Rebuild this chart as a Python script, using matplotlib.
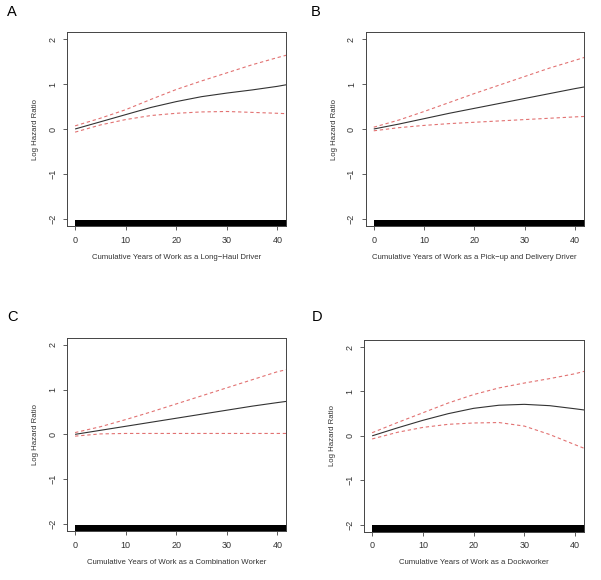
import matplotlib
matplotlib.use("Agg")
import matplotlib.pyplot as plt
import matplotlib.transforms as mtransforms

plt.rcParams['font.family'] = ['Liberation Sans', 'DejaVu Sans']

years = [0, 5, 10, 15, 20, 25, 30, 35, 40, 42]

panel_letters = ["A", "B", "C", "D"]
xlabels = [
    "Cumulative Years of Work as a Long\u2212Haul Driver",
    "Cumulative Years of Work as a Pick\u2212up and Delivery Driver",
    "Cumulative Years of Work as a Combination Worker",
    "Cumulative Years of Work as a Dockworker",
]

fit_A   = [0.00, 0.16, 0.32, 0.48, 0.61, 0.72, 0.80, 0.87, 0.95, 0.99]
upper_A = [0.07, 0.24, 0.43, 0.66, 0.88, 1.07, 1.25, 1.43, 1.59, 1.65]
lower_A = [-0.07, 0.09, 0.21, 0.30, 0.35, 0.38, 0.39, 0.37, 0.35, 0.34]

fit_B   = [0.00, 0.11, 0.23, 0.35, 0.46, 0.57, 0.68, 0.79, 0.90, 0.94]
upper_B = [0.04, 0.20, 0.39, 0.59, 0.79, 0.98, 1.17, 1.36, 1.53, 1.60]
lower_B = [-0.04, 0.03, 0.08, 0.12, 0.15, 0.18, 0.21, 0.24, 0.27, 0.28]

fit_C   = [0.00, 0.09, 0.18, 0.27, 0.36, 0.45, 0.54, 0.63, 0.71, 0.74]
upper_C = [0.04, 0.17, 0.33, 0.50, 0.68, 0.86, 1.04, 1.22, 1.40, 1.45]
lower_C = [-0.04, 0.01, 0.02, 0.02, 0.02, 0.02, 0.02, 0.02, 0.02, 0.02]

fit_D   = [0.00, 0.18, 0.35, 0.50, 0.62, 0.69, 0.71, 0.68, 0.61, 0.58]
upper_D = [0.07, 0.30, 0.52, 0.74, 0.93, 1.08, 1.19, 1.29, 1.40, 1.46]
lower_D = [-0.07, 0.08, 0.19, 0.26, 0.29, 0.30, 0.22, 0.03, -0.20, -0.29]

fits = [fit_A, fit_B, fit_C, fit_D]
uppers = [upper_A, upper_B, upper_C, upper_D]
lowers = [lower_A, lower_B, lower_C, lower_D]

rug_min = [0, 0, 0, 0]
rug_max = [42, 42, 42, 42]

xticks = [0, 10, 20, 30, 40]
yticks = [-2, -1, 0, 1, 2]

W, H = 601, 580
fig = plt.figure(figsize=(W / 100, H / 100), dpi=100)

# axes boxes in pixels: left, top, right, bottom
boxes = [
    (67, 32, 286, 226),
    (365.7, 32, 583.7, 226),
    (67, 337.7, 286, 531),
    (364, 340, 583.7, 531.7),
]
letter_pos = [(12, 12), (316, 12), (12.3, 317.3), (316.7, 317.3)]

frame_col = '#444444'
red = '#e27272'

for i in range(4):
    l, t, r, b = boxes[i]
    ax = fig.add_axes([l / W, 1 - b / H, (r - l) / W, (b - t) / H])
    ax.plot(years, fits[i], color='#333333', lw=0.8, solid_capstyle='butt')
    ax.plot(years, uppers[i], color=red, lw=0.8, dashes=(3, 2.5))
    ax.plot(years, lowers[i], color=red, lw=0.8, dashes=(3, 2.5))
    trans = mtransforms.blended_transform_factory(ax.transData, ax.transAxes)
    ax.fill_between([rug_min[i], rug_max[i]], [0, 0], [0.033, 0.033],
                    color='black', lw=0, transform=trans)
    ax.set_xlim(-1.6, 41.7)
    ax.set_ylim(-2.16, 2.16)
    ax.set_xticks(xticks)
    ax.set_yticks(yticks)
    ax.set_xticklabels([str(v) for v in xticks])
    ax.set_yticklabels([str(v).replace('-', '\u2212') for v in yticks],
                       rotation=90, va='center')
    ax.tick_params(axis='both', labelsize=6.5, length=3, width=0.6,
                   color=frame_col, labelcolor='#333333')
    ax.tick_params(axis='x', pad=4)
    ax.tick_params(axis='y', pad=4)
    for s in ax.spines.values():
        s.set_color(frame_col)
        s.set_linewidth(0.7)
    ax.set_xlabel(xlabels[i], fontsize=5.6, color='#333333')
    ax.set_ylabel("Log Hazard Ratio", fontsize=5.6, color='#333333')
    ax.xaxis.set_label_coords(0.5, -0.145)
    ax.yaxis.set_label_coords(-0.128, 0.5)
    fig.text(letter_pos[i][0] / W, 1 - letter_pos[i][1] / H, panel_letters[i],
             fontsize=10.5, ha='center', va='center', color='black')

fig.savefig("out.png", dpi=100)
